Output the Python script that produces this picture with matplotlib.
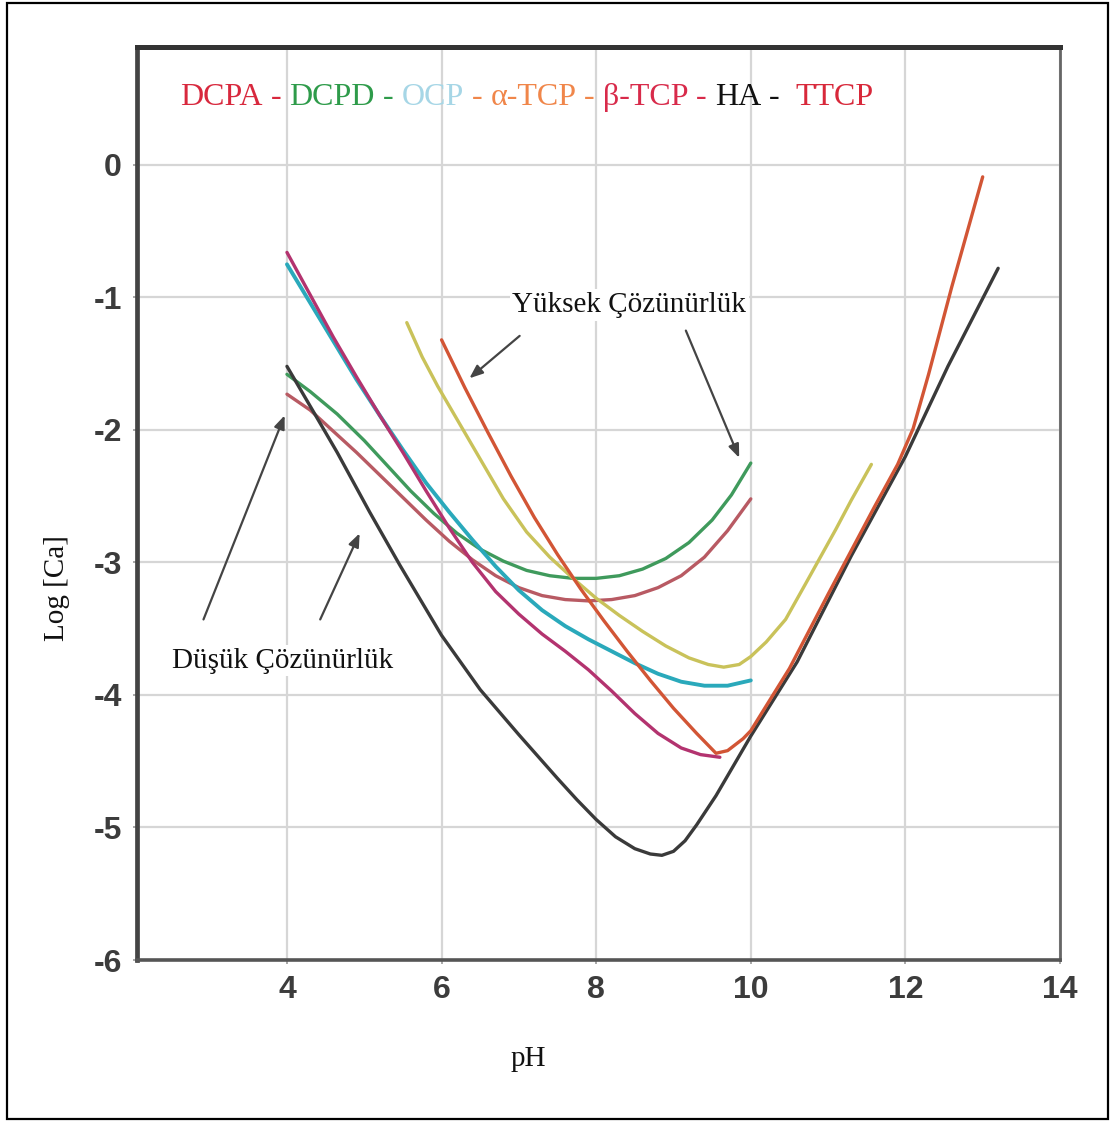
import matplotlib
matplotlib.use("Agg")
import matplotlib.pyplot as plt
from matplotlib.offsetbox import TextArea, HPacker, AnnotationBbox
from matplotlib.patches import Rectangle

# ---------------- data ----------------
ha_x = [4.0, 4.2, 4.65, 5.07, 5.46, 6.0, 6.5, 7.0, 7.5, 7.75, 8.0, 8.25, 8.5, 8.7, 8.85, 9.0, 9.15, 9.3, 9.55, 10.0, 10.6, 11.3, 12.0, 12.55, 13.2]
ha_y = [-1.52, -1.72, -2.17, -2.62, -3.02, -3.55, -3.96, -4.30, -4.63, -4.79, -4.94, -5.07, -5.16, -5.20, -5.21, -5.18, -5.10, -4.98, -4.76, -4.31, -3.75, -2.95, -2.20, -1.52, -0.78]

ttcp_x = [6.0, 6.3, 6.6, 6.9, 7.2, 7.5, 7.8, 8.1, 8.4, 8.7, 9.0, 9.3, 9.55, 9.7, 9.9, 10.0, 10.5, 11.0, 11.6, 11.9, 12.1, 12.3, 12.6, 13.0]
ttcp_y = [-1.32, -1.68, -2.02, -2.35, -2.66, -2.94, -3.20, -3.44, -3.67, -3.89, -4.10, -4.29, -4.44, -4.42, -4.33, -4.27, -3.80, -3.24, -2.58, -2.26, -1.99, -1.58, -0.92, -0.09]

atcp_x = [5.55, 5.75, 5.95, 6.2, 6.5, 6.8, 7.1, 7.4, 7.7, 8.0, 8.3, 8.6, 8.9, 9.2, 9.45, 9.65, 9.85, 10.0, 10.2, 10.45, 10.7, 10.9, 11.1, 11.3, 11.56]
atcp_y = [-1.19, -1.45, -1.67, -1.92, -2.22, -2.52, -2.77, -2.96, -3.12, -3.27, -3.40, -3.52, -3.63, -3.72, -3.77, -3.79, -3.77, -3.71, -3.60, -3.43, -3.17, -2.96, -2.75, -2.53, -2.26]

dcpd_x = [4.0, 4.3, 4.65, 5.0, 5.3, 5.6, 5.9, 6.2, 6.5, 6.8, 7.1, 7.4, 7.7, 8.0, 8.3, 8.6, 8.9, 9.2, 9.5, 9.75, 10.0]
dcpd_y = [-1.58, -1.71, -1.88, -2.08, -2.27, -2.46, -2.63, -2.78, -2.90, -2.99, -3.06, -3.10, -3.12, -3.12, -3.10, -3.05, -2.97, -2.85, -2.68, -2.49, -2.25]

dcpa_x = [4.0, 4.3, 4.6, 4.9, 5.2, 5.5, 5.8, 6.1, 6.4, 6.7, 7.0, 7.3, 7.6, 7.9, 8.2, 8.5, 8.8, 9.1, 9.4, 9.7, 10.0]
dcpa_y = [-1.73, -1.85, -2.01, -2.17, -2.34, -2.51, -2.68, -2.84, -2.98, -3.10, -3.19, -3.25, -3.28, -3.29, -3.28, -3.25, -3.19, -3.10, -2.96, -2.76, -2.52]

ocp_x = [4.0, 4.3, 4.6, 4.9, 5.2, 5.5, 5.8, 6.1, 6.4, 6.7, 7.0, 7.3, 7.6, 7.9, 8.2, 8.5, 8.8, 9.1, 9.4, 9.7, 10.0]
ocp_y = [-0.75, -1.04, -1.33, -1.62, -1.89, -2.15, -2.40, -2.62, -2.83, -3.03, -3.21, -3.36, -3.48, -3.58, -3.67, -3.76, -3.84, -3.90, -3.93, -3.93, -3.89]

btcp_x = [4.0, 4.3, 4.6, 4.9, 5.2, 5.5, 5.8, 6.1, 6.4, 6.7, 7.0, 7.3, 7.6, 7.9, 8.2, 8.5, 8.8, 9.1, 9.35, 9.6]
btcp_y = [-0.66, -0.98, -1.30, -1.60, -1.89, -2.17, -2.46, -2.74, -3.00, -3.22, -3.39, -3.54, -3.67, -3.81, -3.97, -4.14, -4.29, -4.40, -4.45, -4.47]

x_ticks = [4, 6, 8, 10, 12, 14]
y_ticks = [0, -1, -2, -3, -4, -5, -6]

legend_parts = ["DCPA", " - ", "DCPD", " - ", "OCP", " - ", "α-TCP", " - ", "β-TCP", " - ", "HA", " -  ", "TTCP"]
legend_colors = ["#d8283d", "#d8283d", "#2e9b4a", "#2e9b4a", "#a6d6e6", "#f0864a", "#f0864a", "#f0864a",
                 "#d82a4a", "#d82a4a", "#111111", "#111111", "#d8283a"]

# ---------------- figure ----------------
fig = plt.figure(figsize=(11.15, 11.22), dpi=100)
ax = fig.add_axes([137/1115, 1 - 960/1122, (1060-137)/1115, (960-47)/1122])
ax.set_xlim(2.06, 14.0)
ax.set_ylim(-6, 0.89)

ax.set_xticks(x_ticks)
ax.set_yticks(y_ticks)
ax.set_xticklabels([str(t) for t in x_ticks])
ax.set_yticklabels([str(t) for t in y_ticks])
ax.grid(True, color="#d6d6d6", linewidth=1.6, zorder=0)
ax.set_axisbelow(True)
ax.tick_params(axis="both", length=3, width=1.2, color="#999999", pad=8,
               labelsize=23, labelcolor="#3c3c3c")
for lab in ax.get_xticklabels() + ax.get_yticklabels():
    lab.set_fontweight("bold")
    lab.set_family("Liberation Sans")

ax.spines["top"].set_linewidth(3.6)
ax.spines["top"].set_color("#333333")
ax.spines["left"].set_linewidth(3.4)
ax.spines["left"].set_color("#444444")
ax.spines["right"].set_linewidth(2.0)
ax.spines["right"].set_color("#666666")
ax.spines["bottom"].set_linewidth(2.6)
ax.spines["bottom"].set_color("#555555")

lw = 2.4
kw = dict(lw=lw, solid_joinstyle="round", solid_capstyle="round")
ax.plot(dcpa_x, dcpa_y, color="#b85a63", zorder=3, **kw)
ax.plot(dcpd_x, dcpd_y, color="#3f9a5c", zorder=3, **kw)
ax.plot(ocp_x, ocp_y, color="#2aa9bb", zorder=3, **{**kw, "lw": lw + 0.4})
ax.plot(btcp_x, btcp_y, color="#b3336f", zorder=4, **kw)
ax.plot(atcp_x, atcp_y, color="#c9c25a", zorder=3, **kw)
ax.plot(ha_x, ha_y, color="#3a3a3a", zorder=3, **kw)
ax.plot(ttcp_x, ttcp_y, color="#d25535", zorder=4, **kw)

serif = "Liberation Serif"
ax.set_xlabel("pH", family=serif, fontsize=21, color="#111111")
ax.set_ylabel("Log [Ca]", family=serif, fontsize=21, color="#111111")
ax.xaxis.set_label_coords((528 - 137) / 923, (960 - 1046) / 913)
ax.yaxis.set_label_coords((70 - 137) / 923, (960 - 588) / 913)

# coloured title line
areas = [TextArea(t, textprops=dict(color=c, family=serif, fontsize=23))
         for t, c in zip(legend_parts, legend_colors)]
pack = HPacker(children=areas, align="baseline", pad=0, sep=0)
ab = AnnotationBbox(pack, (2.62, 0.51), xycoords="data", box_alignment=(0, 0.5),
                    frameon=False, pad=0)
ax.add_artist(ab)

# annotations
arrow_kw = dict(arrowstyle="-|>,head_length=0.8,head_width=0.32", color="#444444", lw=1.6,
                shrinkA=0, shrinkB=0)
ax.text(8.43, -1.06, "Yüksek Çözünürlük", family=serif, fontsize=21, ha="center", va="center",
        color="#111111", zorder=6,
        bbox=dict(facecolor="white", edgecolor="none", pad=2))
ax.annotate("", xy=(6.36, -1.61), xytext=(7.01, -1.29), arrowprops=arrow_kw, zorder=6)
ax.annotate("", xy=(9.85, -2.21), xytext=(9.16, -1.25), arrowprops=arrow_kw, zorder=6)

ax.text(3.94, -3.74, "Düşük Çözünürlük", family=serif, fontsize=21, ha="center", va="center",
        color="#111111", zorder=6,
        bbox=dict(facecolor="white", edgecolor="none", pad=2))
ax.annotate("", xy=(3.97, -1.89), xytext=(2.92, -3.43), arrowprops=arrow_kw, zorder=6)
ax.annotate("", xy=(4.94, -2.78), xytext=(4.43, -3.43), arrowprops=arrow_kw, zorder=6)

# outer frame
fig.patches.append(Rectangle((7/1115, 3/1122), 1101/1115, 1116/1122, transform=fig.transFigure,
                             fill=False, edgecolor="black", linewidth=1.6))

fig.savefig("out.png", dpi=100)
